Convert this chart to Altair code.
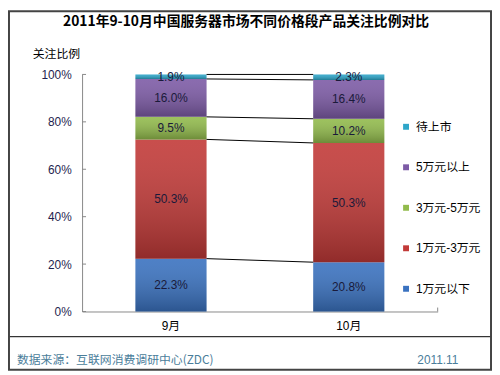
import altair as alt
import pandas as pd

categories = ["9月", "10月"]
series = ["1万元以下", "1万元-3万元", "3万元-5万元", "5万元以上", "待上市"]  # bottom -> top
values_sep = [22.3, 50.3, 9.5, 16.0, 1.9]
values_oct = [20.8, 50.3, 10.2, 16.4, 2.3]
colors = ["#3a72c0", "#c23a38", "#92bb4c", "#7d5ba6", "#2ea6c9"]
y_ticks = [0, 20, 40, 60, 80, 100]

title_text = "2011年9-10月中国服务器市场不同价格段产品关注比例对比"
y_title = "关注比例"
source_text = "数据来源：互联网消费调研中心(ZDC)"
date_text = "2011.11"

FONT = "Liberation Sans, Arial, Noto Sans CJK SC"
CJK = "Noto Sans CJK SC"

# ---- tables built from the arrays ----
rows = []
cums = {}
for cat, vals in zip(categories, [values_sep, values_oct]):
    c = 0.0
    tops = []
    for s, v in zip(series, vals):
        rows.append({"cat": cat, "series": s, "y0": c, "y1": c + v,
                     "mid": c + v / 2, "label": f"{v:.1f}%"})
        c += v
        tops.append(c)
    cums[cat] = tops
bars = pd.DataFrame(rows)

conn = pd.DataFrame({
    "c1": [categories[0]] * len(series),
    "c2": [categories[1]] * len(series),
    "ya": cums[categories[0]],
    "yb": cums[categories[1]],
})
ticks_df = pd.DataFrame({"v": y_ticks})

legend_order = series[::-1]
legend_colors = colors[::-1]

x_scale = alt.Scale(domain=categories, paddingInner=0.6, paddingOuter=0.3)
y_scale = alt.Scale(domain=[0, 100], nice=False)
x_axis = alt.Axis(title=None, ticks=False, labelPadding=9, labelAngle=0,
                  labelFontSize=12, labelColor="#000000", labelFont=FONT,
                  domainColor="#888888", grid=False)
y_axis = alt.Axis(title=None, values=y_ticks, ticks=False, labelPadding=11,
                  labelExpr="datum.value + '%'", labelFontSize=12,
                  labelColor="#1f1f4f", labelFont=FONT,
                  domainColor="#888888", grid=False)

X = alt.X("cat:N", scale=x_scale, axis=x_axis, sort=categories)
Y = alt.Y("y0:Q", scale=y_scale, axis=y_axis)

base_bars = alt.Chart(bars).mark_bar().encode(
    x=X, y=Y, y2="y1:Q",
    color=alt.Color("series:N",
                    scale=alt.Scale(domain=legend_order, range=legend_colors),
                    legend=alt.Legend(title=None, orient="none", legendX=322, legendY=47,
                                      symbolType="square", symbolSize=36,
                                      symbolStrokeWidth=0, labelFontSize=12,
                                      labelOffset=4, rowPadding=29, padding=0,
                                      labelFont=FONT, labelColor="#000000")),
)

shade = alt.Chart(bars).mark_bar(
    color=alt.Gradient(gradient="linear", x1=0, y1=0, x2=0, y2=1,
                       stops=[alt.GradientStop(offset=0, color="rgba(255,255,255,0.10)"),
                              alt.GradientStop(offset=1, color="rgba(0,0,0,0.25)")])
).encode(x=X, y=Y, y2="y1:Q")

labels = alt.Chart(bars).mark_text(fontSize=12, color="#1a1a3a", font=FONT,
                                   baseline="middle").encode(
    x=X, y=alt.Y("mid:Q", scale=y_scale, axis=y_axis), text="label:N")

connectors = alt.Chart(conn).mark_rule(color="#000000", strokeWidth=1).encode(
    x=alt.X("c1:N", scale=x_scale, axis=x_axis, bandPosition=1),
    x2=alt.X2("c2:N", bandPosition=0),
    y=alt.Y("ya:Q", scale=y_scale, axis=y_axis),
    y2="yb:Q",
)

y_ticks_layer = alt.Chart(ticks_df).mark_rule(color="#888888").encode(
    y=alt.Y("v:Q", scale=y_scale, axis=y_axis),
    x=alt.value(0), x2=alt.value(4),
)

one = pd.DataFrame({"t": [title_text]})
title_layer = alt.Chart(one).mark_text(fontSize=14, fontWeight="bold", font=CJK,
                                       color="#000000", align="center",
                                       baseline="middle").encode(
    x=alt.value(166), y=alt.value(-53), text="t:N")

ytitle_layer = alt.Chart(pd.DataFrame({"t": [y_title]})).mark_text(
    fontSize=12, font=CJK, color="#000000", align="center", baseline="middle").encode(
    x=alt.value(-26), y=alt.value(-21), text="t:N")

source_layer = alt.Chart(pd.DataFrame({"t": [source_text]})).mark_text(
    fontSize=12, font=CJK, color="#4a7d9a", align="left", baseline="middle").encode(
    x=alt.value(-66), y=alt.value(289), text="t:N")

date_layer = alt.Chart(pd.DataFrame({"t": [date_text]})).mark_text(
    fontSize=12, font=FONT, color="#4a7d9a", align="right", baseline="middle").encode(
    x=alt.value(381), y=alt.value(289), text="t:N")

deco = pd.DataFrame({"a": [0]})
sep_line = alt.Chart(deco).mark_rule(color="#000000", strokeWidth=1).encode(
    x=alt.value(-75), x2=alt.value(415), y=alt.value(265.5))
end_tick = alt.Chart(deco).mark_rule(color="#888888").encode(
    x=alt.value(360), y=alt.value(236), y2=alt.value(240))
border = alt.Chart(deco).mark_rect(fill=None, stroke="#444444", strokeWidth=2).encode(
    x=alt.value(-74), x2=alt.value(414), y=alt.value(-64), y2=alt.value(299))

chart = alt.layer(
    base_bars, shade, connectors, labels, y_ticks_layer, end_tick,
    title_layer, ytitle_layer, source_layer, date_layer, sep_line, border,
).properties(
    width=360, height=240,
    padding={"left": 75, "top": 65, "right": 55, "bottom": 60},
    autosize=alt.AutoSizeParams(type="none"),
    background="#ffffff",
).configure_view(stroke=None)

chart.save("out.html", embed_options={"renderer": "svg", "actions": False})
